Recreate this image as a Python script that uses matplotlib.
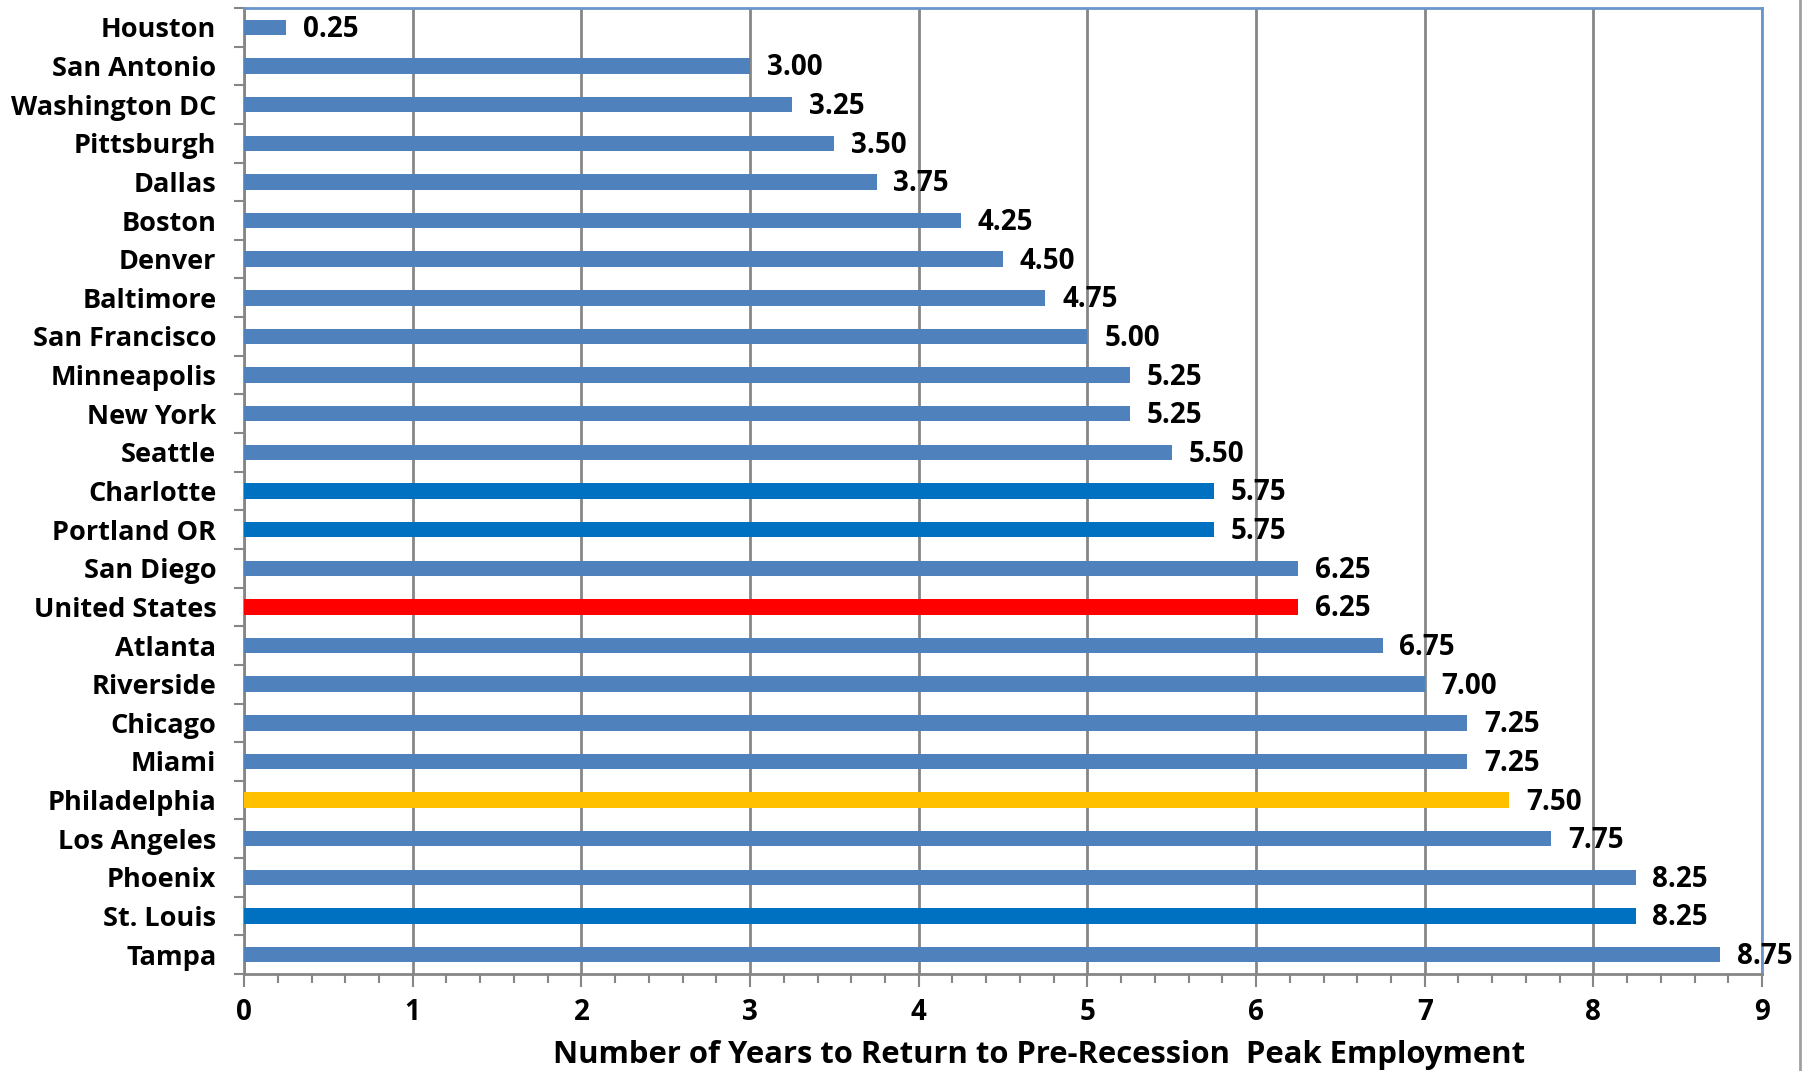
# bar chart: years to return to pre-recession peak employment by metro area

import numpy as np
import matplotlib.pyplot as plt
from matplotlib.ticker import MultipleLocator

# data, top to bottom as in the chart
cities = ['Houston', 'San Antonio', 'Washington DC', 'Pittsburgh', 'Dallas',
          'Boston', 'Denver', 'Baltimore', 'San Francisco', 'Minneapolis',
          'New York', 'Seattle', 'Charlotte', 'Portland OR', 'San Diego',
          'United States', 'Atlanta', 'Riverside', 'Chicago', 'Miami',
          'Philadelphia', 'Los Angeles', 'Phoenix', 'St. Louis', 'Tampa']
years = [0.25, 3.00, 3.25, 3.50, 3.75,
         4.25, 4.50, 4.75, 5.00, 5.25,
         5.25, 5.50, 5.75, 5.75, 6.25,
         6.25, 6.75, 7.00, 7.25, 7.25,
         7.50, 7.75, 8.25, 8.25, 8.75]

# highlighted bars
highlight = {'Charlotte': '#0070C0', 'Portland OR': '#0070C0', 'St. Louis': '#0070C0',
             'United States': '#FF0000', 'Philadelphia': '#FFC000'}
colors = [highlight.get(c, '#4F81BD') for c in cities]

plt.rcParams['font.family'] = ['Open Sans', 'DejaVu Sans']
plt.rcParams['font.weight'] = 'bold'

fig = plt.figure(figsize=(18.08, 10.71), dpi=100)
ax = fig.add_axes([0.135, 0.0906, 0.8396, 0.9019])

y = np.arange(len(cities))
ax.barh(y, years, height=0.4, color=colors, zorder=3)

# value labels
for yi, v in zip(y, years):
    ax.text(v + 0.1, yi + 0.05, f'{v:.2f}', va='center', ha='left',
            fontsize=20, fontweight='bold', color='black', zorder=4)

ax.set_xlim(0, 9)
ax.set_ylim(len(cities) - 0.5, -0.5)

# x axis ticks
ax.xaxis.set_major_locator(MultipleLocator(1))
ax.xaxis.set_minor_locator(MultipleLocator(0.2))
ax.tick_params(axis='x', which='major', length=9, width=1.5, color='#868686',
               labelsize=20, pad=8)
ax.tick_params(axis='x', which='minor', length=6.5, width=1.5, color='#868686')

# y axis: labels at categories, small ticks at the boundaries
ax.set_yticks(y)
ax.set_yticklabels(cities)
ax.set_yticks(np.arange(len(cities) + 1) - 0.5, minor=True)
ax.tick_params(axis='y', which='major', length=0, labelsize=19.5, pad=20)
ax.tick_params(axis='y', which='minor', length=7, width=1.5, color='#868686')

for lbl in ax.get_xticklabels() + ax.get_yticklabels():
    lbl.set_fontweight('bold')

ax.grid(axis='x', which='major', color='#868686', linewidth=2, zorder=0)

for side in ['left', 'bottom']:
    ax.spines[side].set_color('#868686')
    ax.spines[side].set_linewidth(2)
for side in ['top', 'right']:
    ax.spines[side].set_color('#6A96CB')
    ax.spines[side].set_linewidth(2)

ax.set_xlabel('Number of Years to Return to Pre-Recession  Peak Employment',
              fontsize=22.3, fontweight='bold')
# label sits a bit right of the axis centre in the original
ax.xaxis.set_label_coords(0.5236, -0.068)

# chart area border on the right
fig.add_artist(plt.Line2D([0.9956, 0.9956], [0, 1], color='#A0A0A0', linewidth=2))

fig.savefig('out.png', dpi=100)
